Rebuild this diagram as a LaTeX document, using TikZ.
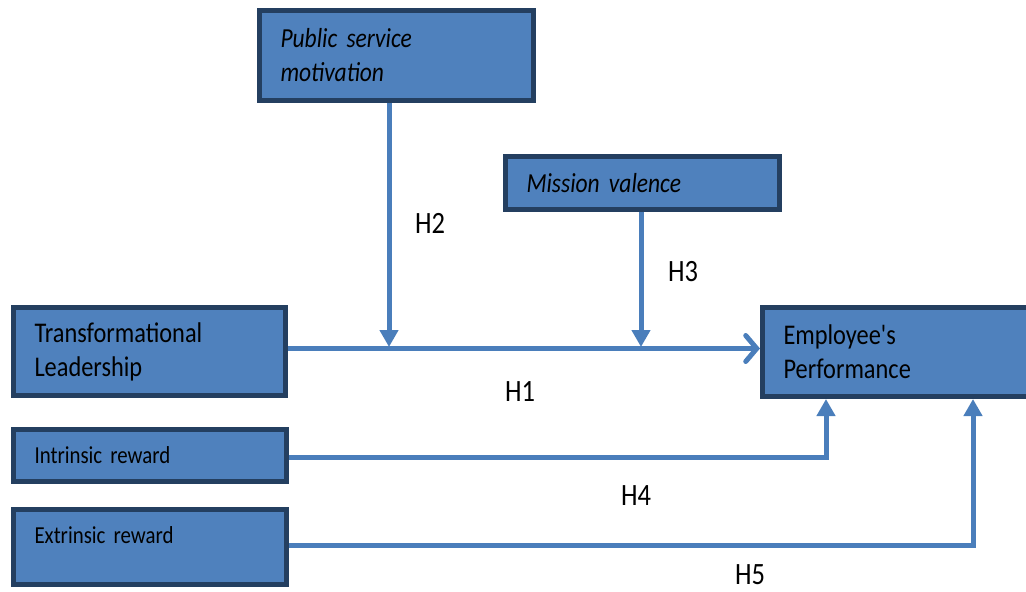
\documentclass[tikz,border=0pt]{standalone}
\usepackage{fontspec}
\setmainfont{Carlito}[FakeStretch=0.855, Ligatures=TeXOff]
\usetikzlibrary{arrows.meta}
\definecolor{boxfill}{HTML}{4F81BD}
\definecolor{boxline}{HTML}{243F60}
\definecolor{linkblue}{HTML}{4A7EBB}

\begin{document}
\begin{tikzpicture}[x=1pt,y=-1pt,
  box/.style={draw=boxline, line width=5pt, fill=boxfill, inner xsep=21pt,
              inner ysep=0pt, align=left, anchor=center},
  bigit/.style={font=\fontsize{27.5}{34}\selectfont\itshape},
  big/.style={font=\fontsize{28.5}{34}\selectfont},
  small/.style={font=\fontsize{24.4}{28}\selectfont},
  hyp/.style={font=\fontsize{31}{36}\selectfont, inner sep=0pt, anchor=center},
  link/.style={draw=linkblue, line width=5pt, line join=miter},
  uptip/.style={-{Triangle[length=17pt,width=18pt]}},
  opentip/.style={-{Straight Barb[length=11pt,width=26pt,line cap=round]}},
]
\clip (0,0) rectangle (1026,592);

% construct boxes
\node[box, bigit, minimum width=274pt, minimum height=90pt, text width=232pt]
  (psm) at (396.5,55.5) {Public service\\motivation};
\node[box, bigit, minimum width=274pt, minimum height=53pt, text width=232pt]
  (mv) at (642.5,183) {Mission valence};
\node[box, big, minimum width=272pt, minimum height=88pt, text width=230pt]
  (tl) at (149.5,351.5) {Transformational\\Leadership};
\node[box, big, minimum width=275pt, minimum height=89pt, text width=233pt]
  (ep) at (900,352) {Employee's\\Performance};
\node[box, small, minimum width=273pt, minimum height=52pt, text width=231pt]
  (ir) at (150,455.5) {Intrinsic reward};
\node[box, small, minimum width=273pt, minimum height=75pt, text width=231pt,
      text depth=24pt]
  (er) at (150,547) {Extrinsic reward};

% junctions and corners of the connectors
\coordinate (j1) at (389,348.5);
\coordinate (j2) at (641,348.5);
\coordinate (c4) at (826,457);
\coordinate (c5) at (973,545);

% main path H1 and the two moderating arrows
\draw[link, opentip] (tl.east |- j1) -- (ep.west |- j1);
\draw[link, uptip, shorten >=1.5pt] (psm.south -| j1) -- (j1);
\draw[link, uptip, shorten >=1.5pt] (mv.south -| j2) -- (j2);

% reward paths
\draw[link, uptip] (ir.east |- c4) -- (c4) -- (c4 |- ep.south);
\draw[link, uptip] (er.east |- c5) -- (c5) -- (c5 |- ep.south);

% hypothesis labels
\node[hyp] (h2) at (430,223.5) {H2};
\node[hyp] (h3) at (683,272) {H3};
\node[hyp] (h1) at (520,391.5) {H1};
\node[hyp] (h4) at (636,496) {H4};
\node[hyp] (h5) at (750,575) {H5};
\end{tikzpicture}
\end{document}
